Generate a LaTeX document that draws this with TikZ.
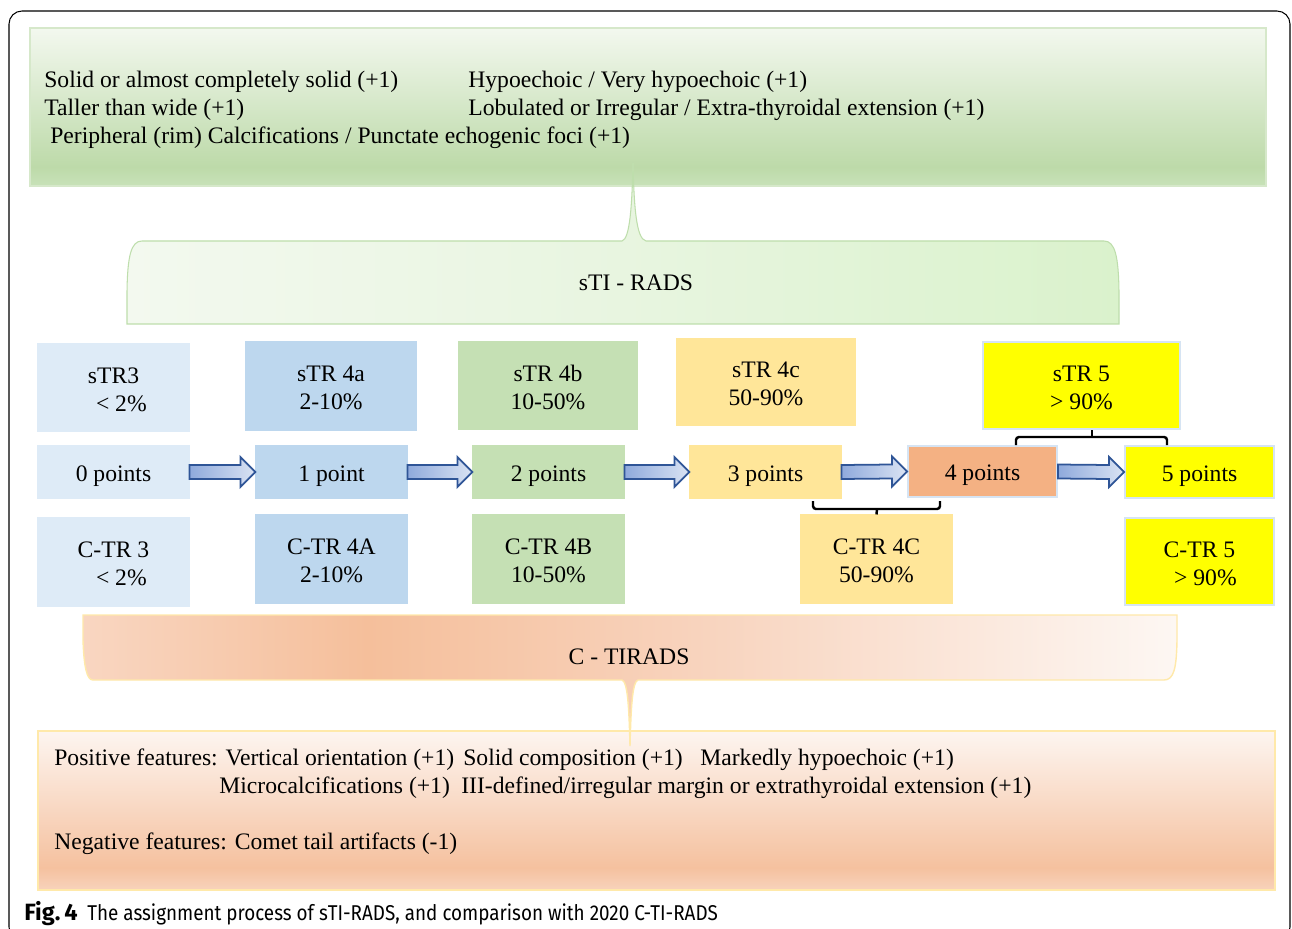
\documentclass[tikz,border=0pt]{standalone}
\usepackage{fontspec}
\setmainfont{Liberation Serif}
\newfontfamily\capfont[FakeStretch=0.88]{Fira Sans}
\newfontfamily\capbold{Fira Sans Bold}
\usetikzlibrary{calc}

\definecolor{gB}{RGB}{200,226,185}
\definecolor{gM}{RGB}{189,218,169}
\definecolor{gT}{RGB}{243,248,239}
\definecolor{oB}{RGB}{248,211,188}
\definecolor{oM}{RGB}{245,193,159}
\definecolor{oT}{RGB}{253,245,240}
\definecolor{cL}{RGB}{249,214,193}
\definecolor{cP}{RGB}{245,191,155}
\definecolor{cM}{RGB}{248,211,189}
\definecolor{cR}{RGB}{253,247,243}
\definecolor{sL}{RGB}{243,249,239}
\definecolor{sM}{RGB}{232,245,224}
\definecolor{sR}{RGB}{218,242,204}
\definecolor{lb}{RGB}{222,235,247}
\definecolor{mb}{RGB}{189,215,238}
\definecolor{lg}{RGB}{197,224,180}
\definecolor{ly}{RGB}{255,230,153}
\definecolor{or}{RGB}{244,177,131}
\definecolor{yy}{RGB}{255,255,0}
\definecolor{edgeblue}{RGB}{214,228,243}
\definecolor{arrL}{RGB}{143,170,220}
\definecolor{arrR}{RGB}{218,227,243}
\definecolor{arrD}{RGB}{47,85,151}
\definecolor{gedge}{RGB}{214,232,202}
\definecolor{sedge}{RGB}{190,222,172}
\definecolor{oedge}{RGB}{255,233,170}

\pgfdeclareverticalshading{greenbox}{100bp}{color(0bp)=(gB); color(25bp)=(gB); color(31bp)=(gM); color(75bp)=(gT); color(100bp)=(gT)}
\pgfdeclareverticalshading{orangebox}{100bp}{color(0bp)=(oB); color(25bp)=(oB); color(32bp)=(oM); color(75bp)=(oT); color(100bp)=(oT)}
\pgfdeclarehorizontalshading{ccall}{100bp}{color(0bp)=(cL); color(25bp)=(cL); color(38bp)=(cP); color(53bp)=(cM); color(75bp)=(cR); color(100bp)=(cR)}
\pgfdeclarehorizontalshading{scall}{100bp}{color(0bp)=(sL); color(25bp)=(sL); color(50bp)=(sM); color(75bp)=(sR); color(100bp)=(sR)}

\newcommand{\blkarrow}[2]{%
  \path[blkarr] ($(#1.east)+(0,-7)$) -- ($(#2.west)+(-15,-7)$) -- ($(#2.west)+(-15,-15)$)
    -- (#2.west) -- ($(#2.west)+(-15,15)$) -- ($(#2.west)+(-15,7)$) -- ($(#1.east)+(0,7)$) -- cycle;}
\newcommand{\twoup}{\rule{0pt}{11.4pt}}
\newcommand{\oneup}{\rule{0pt}{13.6pt}}

\begin{document}
\begin{tikzpicture}[x=0.02cm,y=-0.02cm,
  txt/.style={font=\fontsize{13.45}{15.9}\selectfont, inner sep=0pt},
  sz/.style 2 args={minimum width=#1*0.02cm, minimum height=#2*0.02cm},
  bx/.style={txt, align=center, fill=#1, draw=#1, line width=0.6pt},
  bxe/.style={txt, align=center, fill=#1, draw=edgeblue, line width=1.1pt},
  blkarr/.style={left color=arrL, right color=arrR, draw=arrD, line width=1pt, line join=miter},
  brk/.style={draw=black, line width=1.4pt, rounded corners=0.06cm},
  lbl/.style={txt, anchor=base west}
]
\useasboundingbox (0,0) rectangle (1292,929);
\fill[white] (0,0) rectangle (1292,929);

% outer frame
\draw[black, line width=0.6pt, rounded corners=0.26cm] (9,11) rectangle (1290,940);

% top green box
\path[shading=greenbox, draw=gedge, line width=0.8pt] (30,28) rectangle (1266,186);
\node[lbl] (f1) at (44,88) {Solid or almost completely solid (+1)};
\node[lbl] (f2) at (468,88) {Hypoechoic / Very hypoechoic (+1)};
\node[lbl] (f3) at (44,116) {Taller than wide (+1)};
\node[lbl] (f4) at (468,116) {Lobulated or Irregular / Extra-thyroidal extension (+1)};
\node[lbl] (f5) at (50,144) {Peripheral (rim) Calcifications / Punctate echogenic foci (+1)};

% sTI-RADS callout
\path[shading=scall, draw=sedge, line width=0.6pt]
  (127,324) -- (127,292) .. controls (127.5,256) and (131,241) .. (142,241)
  -- (622,241) .. controls (630,239) and (632,205) .. (633,163)
  .. controls (634,205) and (636,239) .. (646,241)
  -- (1104,241) .. controls (1115,241) and (1118.5,256) .. (1119,292)
  -- (1119,324) -- cycle;
\node[txt] (sti) at (636,283) {sTI - RADS};

% row 1: sTR categories
\node[bx=lb, sz={151}{87}] (t0) at (113.5,387.5) {\twoup sTR3\\ \,\,\,\,< 2\%};
\node[bx=mb, sz={170}{88}] (t1) at (331,386) {\twoup sTR 4a\\2-10\%};
\node[bx=lg, sz={178}{87}] (t2) at (548,385.5) {\twoup sTR 4b\\10-50\%};
\node[bx=ly, sz={178}{86}] (t3) at (766,382) {\twoup sTR 4c\\50-90\%};
\node[bxe=yy, sz={197}{87}] (t5) at (1081.5,385.5) {\twoup sTR 5\\ > 90\%};

% row 2: points
\node[bx=lb, sz={151}{52}] (p0) at (113.5,472) {\oneup 0 points};
\node[bx=mb, sz={151}{52}] (p1) at (331.5,472) {\oneup 1 point};
\node[bx=lg, sz={151}{52}] (p2) at (548.5,472) {\oneup 2 points};
\node[bx=ly, sz={151}{52}] (p3) at (765.5,472) {\oneup 3 points};
\node[bxe=or, sz={149}{51}] (p4) at (982.5,471.5) {\oneup 4 points};
\node[bxe=yy, sz={149}{52}] (p5) at (1199.5,472) {\oneup 5 points};

% row 3: C-TR categories
\node[bx=lb, sz={151}{88}] (c0) at (113.5,562) {\twoup C-TR 3\\ \,\,\,\,< 2\%};
\node[bx=mb, sz={151}{88}] (c1) at (331.5,559) {\twoup C-TR 4A\\2-10\%};
\node[bx=lg, sz={151}{88}] (c2) at (548.5,559) {\twoup C-TR 4B\\10-50\%};
\node[bx=ly, sz={151}{88}] (c3) at (876.5,559) {\twoup C-TR 4C\\50-90\%};
\node[bxe=yy, sz={149}{87}] (c5) at (1199.5,561.5) {\twoup C-TR 5\\ \,\,\,> 90\%};

% block arrows
\blkarrow{p0}{p1}
\blkarrow{p1}{p2}
\blkarrow{p2}{p3}
\blkarrow{p3}{p4}
\blkarrow{p4}{p5}

% brackets
\coordinate (bl1) at (813,501);
\coordinate (bl2) at (940,501);
\draw[brk] (bl1) -- (813,509) -- (940,509) -- (bl2);
\draw[brk] (877,509) -- (c3.north);
\coordinate (bu1) at (1016,445);
\coordinate (bu2) at (1167,445);
\coordinate (bu3) at (1092,430);
\draw[brk] (bu1) -- (1016,437) -- (1167,437) -- (bu2);
\draw[brk] (1092,437) -- (bu3);

% bottom orange box
\path[shading=orangebox, draw=oedge, line width=1pt] (38,731) rectangle (1275,890);
\node[lbl] (n1) at (54,765) {Positive features: Vertical orientation (+1)};
\node[lbl] (n2) at (463,765) {Solid composition (+1)};
\node[lbl] (n3) at (700,765) {Markedly hypoechoic (+1)};
\node[lbl] (n4) at (219,793) {Microcalcifications (+1)};
\node[lbl] (n5) at (461,793) {III-defined/irregular margin or extrathyroidal extension (+1)};
\node[lbl] (n6) at (54,849) {Negative features: Comet tail artifacts (-1)};

% C-TIRADS callout
\path[shading=ccall, draw=oedge, line width=0.8pt]
  (83,615) -- (1177,615) -- (1177,640) .. controls (1176.5,668) and (1174,680) .. (1164,680)
  -- (638,680) .. controls (632,682) and (631,710) .. (630,746)
  .. controls (629,710) and (628,682) .. (622,680)
  -- (93,680) .. controls (87,680) and (84,668) .. (83,640) -- cycle;
\node[txt] (cti) at (629,657) {C - TIRADS};

% caption
\node[anchor=base west, inner sep=0pt, font=\capbold\fontsize{13.4}{15}\selectfont] (figl) at (24,920) {Fig.\,4};
\node[anchor=base west, inner sep=0pt, font=\capfont\fontsize{12.2}{14}\selectfont] (figc) at (87,920) {The assignment process of sTI-RADS, and comparison with 2020 C-TI-RADS};
\end{tikzpicture}
\end{document}
